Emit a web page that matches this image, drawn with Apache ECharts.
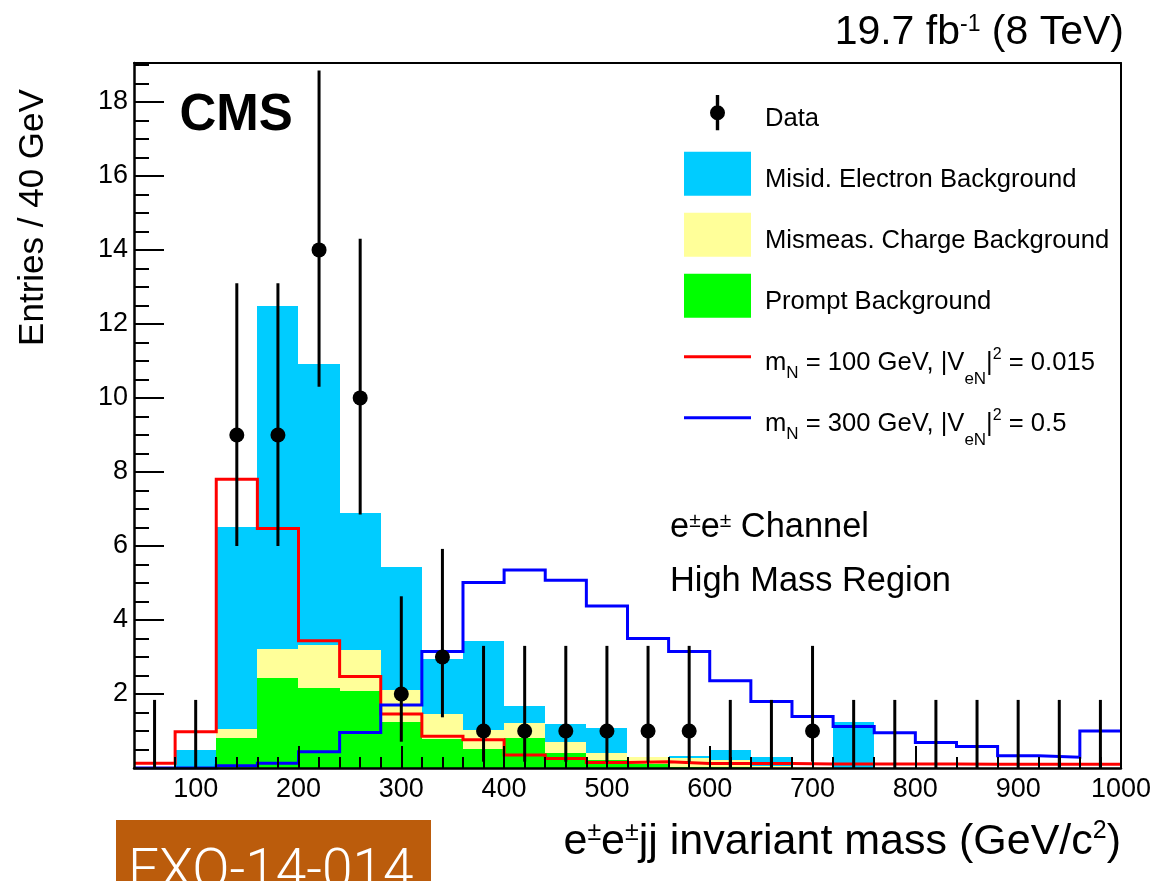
<!DOCTYPE html>
<html>
<head>
<meta charset="utf-8">
<script src="https://cdn.jsdelivr.net/npm/echarts@6/dist/echarts.min.js"></script>
<style>html,body{margin:0;padding:0;background:#fff;overflow:hidden}#c{width:1154px;height:881px}</style>
</head>
<body>
<div id="c"></div>
<script>
// ---------------- data ----------------
const binLow = [40, 80, 120, 160, 200, 240, 280, 320, 360, 400, 440, 480, 520, 560, 600, 640, 680, 720, 760, 800, 840, 880, 920, 960];
const binWidth = 40;
// stacked backgrounds (bottom -> top)
const promptBkg  = [0, 0, 0.81, 2.43, 2.16, 2.09, 1.23, 0.78, 0.50, 0.80, 0.40, 0.21, 0.12, 0.04, 0.02, 0, 0, 0, 0, 0, 0, 0, 0, 0];
const mismeasBkg = [0, 0, 0.24, 0.78, 1.17, 1.09, 0.87, 0.68, 0.53, 0.41, 0.29, 0.19, 0.19, 0.23, 0.20, 0.05, 0.02, 0, 0, 0, 0, 0, 0, 0];
const misidBkg   = [0, 0.48, 5.45, 9.27, 7.60, 3.71, 3.32, 1.48, 2.39, 0.46, 0.49, 0.67, 0, 0.06, 0.27, 0.26, 0, 1.23, 0, 0, 0, 0, 0, 0];
// signal hypotheses
const sigN100 = [0.13, 0.98, 7.80, 6.47, 3.44, 2.47, 1.46, 0.86, 0.76, 0.35, 0.26, 0.15, 0.17, 0.12, 0.12, 0.12, 0.11, 0.11, 0.11, 0.11, 0.10, 0.10, 0.10, 0.10];
const sigN300 = [0, 0, 0.06, 0.13, 0.44, 0.96, 1.70, 3.15, 5.01, 5.35, 5.07, 4.38, 3.50, 3.15, 2.36, 1.80, 1.39, 1.12, 0.95, 0.69, 0.58, 0.33, 0.29, 1.00];
// observed data and error bar ends
const dataCounts  = [0, 0, 9, 9, 14, 10, 2, 3, 1, 1, 1, 1, 1, 1, 0, 0, 1, 0, 0, 0, 0, 0, 0, 0];
const dataErrLow  = [0, 0, 6.0, 6.0, 10.3, 6.85, 0.71, 1.37, 0.17, 0.17, 0.17, 0.17, 0.17, 0.17, 0, 0, 0.17, 0, 0, 0, 0, 0, 0, 0];
const dataErrHigh = [1.84, 1.84, 13.1, 13.1, 18.85, 14.3, 4.64, 5.92, 3.3, 3.3, 3.3, 3.3, 3.3, 3.3, 1.84, 1.84, 3.3, 1.84, 1.84, 1.84, 1.84, 1.84, 1.84, 1.84];
// axis ticks
const xMajorTicks = [100, 200, 300, 400, 500, 600, 700, 800, 900, 1000];
const yMajorTicks = [2, 4, 6, 8, 10, 12, 14, 16, 18];
const xRange = [40, 1000];
const yRange = [0, 19.05];

const NAME_DATA = 'Data';
const NAME_MISID = 'Misid. Electron Background';
const NAME_MISMEAS = 'Mismeas. Charge Background';
const NAME_PROMPT = 'Prompt Background';
const NAME_S100 = 'mN = 100 GeV, |VeN|2 = 0.015';
const NAME_S300 = 'mN = 300 GeV, |VeN|2 = 0.5';

// ---------------- helpers ----------------
const FONT = '"Liberation Sans", Arial, Helvetica, sans-serif';
const MID = 0.3465; // canvas "middle" baseline offset for Liberation Sans (em)

const xMinorTicks = [];
for (let v = 60; v < 1000; v += 20) xMinorTicks.push(v);
const yMinorTicks = [];
for (let v = 0.5; v <= 19; v += 0.5) yMinorTicks.push(+v.toFixed(1));

function stepData(vals) {
  const d = binLow.map((x, i) => [x, vals[i]]);
  d.push([binLow[binLow.length - 1] + binWidth, vals[vals.length - 1]]);
  return d;
}
const binCenters = binLow.map(x => x + binWidth / 2);
const dataPoints = [];
binCenters.forEach((x, i) => { if (dataCounts[i] > 0) dataPoints.push([x, dataCounts[i]]); });
const errData = binCenters.map((x, i) => [x, dataErrLow[i], dataErrHigh[i]]);

// stacked bins: [xLow, xHigh, yLow, yHigh]
const stackLayers = [promptBkg, mismeasBkg, misidBkg];
const cumBase = binLow.map(() => 0);
const stackRects = stackLayers.map(vals => binLow.map((x, i) => {
  const lo = cumBase[i];
  cumBase[i] = lo + vals[i];
  return [x, x + binWidth, lo, cumBase[i]];
}));

// rich-text token whose baseline sits `bo` px below the line top (line height LH)
function tok(fs, bo, LH, ext) {
  const c = bo - MID * fs;
  return Object.assign({fontSize: fs, fontFamily: FONT, fill: '#000', color: '#000', lineHeight: LH,
    verticalAlign: 'top', height: 2, padding: [c - 1, 0, Math.max(0, LH - c - 1), 0]}, ext || {});
}
function richLabel(x, baseline, align, parts, elExtra, fill) {
  const maxFs = Math.max.apply(null, parts.map(p => p[1]));
  const LH = Math.round(maxFs * 2);
  const d = maxFs * 1.2;
  const rich = {}; let text = '';
  parts.forEach((p, i) => {
    const key = 't' + i;
    rich[key] = tok(p[1], d - (p[2] || 0), LH, Object.assign(fill ? {fill: fill} : {}, p[3] || {}));
    text += '{' + key + '|' + p[0] + '}';
  });
  return Object.assign({type: 'text', z: 50, silent: true,
    style: {text: text, rich: rich, x: x, y: baseline - d, align: align, verticalAlign: 'top'}}, elExtra || {});
}

// legend rich styles (block height 44, main baseline 37.6 below top)
const LG = 25.6;
const legendRich = {
  n: tok(LG, 37.6, 44),
  sb1: tok(17, 44.9, 44),
  sb2: tok(17, 50.9, 44),
  sp: tok(16, 25.9, 44)
};
const legendText = {};
legendText[NAME_DATA] = '{n|Data}';
legendText[NAME_MISID] = '{n|' + NAME_MISID + '}';
legendText[NAME_MISMEAS] = '{n|' + NAME_MISMEAS + '}';
legendText[NAME_PROMPT] = '{n|' + NAME_PROMPT + '}';
legendText[NAME_S100] = '{n|m}{sb1|N}{n| = 100 GeV, |V}{sb2|eN}{n||}{sp|2}{n| = 0.015}';
legendText[NAME_S300] = '{n|m}{sb1|N}{n| = 300 GeV, |V}{sb2|eN}{n||}{sp|2}{n| = 0.5}';

const dataIcon = 'path://M0,0L0,0M67,44L67,44M31.8,4.3L35.2,4.3L35.2,39.5L31.8,39.5ZM26,22A7.5,7.5 0 1 1 41,22A7.5,7.5 0 1 1 26,22Z';
const lineIcon = 'path://M0,0L0,0M67,44L67,44M0,20.5L67,20.5L67,23.5L0,23.5Z';

const legendRows = [
  [NAME_DATA, dataIcon],
  [NAME_MISID, 'rect'],
  [NAME_MISMEAS, 'rect'],
  [NAME_PROMPT, 'rect'],
  [NAME_S100, lineIcon],
  [NAME_S300, lineIcon]
];
const legends = legendRows.map((row, i) => ({
  show: true, orient: 'vertical', left: 684, top: 90.7 + 61 * i, padding: 0,
  itemWidth: 67, itemHeight: 44, itemGap: 0, selectedMode: false,
  data: [{name: row[0], icon: row[1]}],
  itemStyle: {opacity: 1, borderWidth: 0},
  formatter: function (name) { return legendText[name] || name; },
  textStyle: {color: '#000', fontSize: LG, fontFamily: FONT, padding: [0, 0, 0, 9], rich: legendRich}
}));

const COL_MISID = '#00CCFF', COL_MISMEAS = '#FFFF99', COL_PROMPT = '#00FF00';

function stackSeries(name, rects, color) {
  return {
    name: name, type: 'custom', data: rects, z: 1, silent: true, animation: false,
    encode: {x: [0, 1], y: [2, 3]}, itemStyle: {color: color}, color: color,
    renderItem: function (params, api) {
      const p0 = api.coord([api.value(0), api.value(2)]);
      const p1 = api.coord([api.value(1), api.value(3)]);
      const x0 = Math.round(p0[0]), x1 = Math.round(p1[0]);
      const yb = Math.round(p0[1]), yt = Math.round(p1[1]);
      if (yb - yt <= 0) return null;
      return {type: 'rect', shape: {x: x0, y: yt, width: x1 - x0, height: yb - yt},
        style: {fill: color}};
    }
  };
}
function sigSeries(name, vals, color, z) {
  return {
    name: name, type: 'line', step: 'end', data: stepData(vals), color: color,
    symbol: 'none', showSymbol: false, silent: true, z: z,
    lineStyle: {width: 3, color: color, join: 'miter'}, itemStyle: {color: color},
    emphasis: {disabled: true}, animation: false
  };
}

const axisCommon = {splitLine: {show: false}, axisPointer: {show: false}};
const numFmt = function (v) { return String(v); };

const option = {
  animation: false,
  backgroundColor: '#fff',
  grid: {left: 134, top: 63, width: 987, height: 705, containLabel: false},
  xAxis: [
    Object.assign({type: 'value', min: xRange[0], max: xRange[1], position: 'bottom', z: 10,
      axisLine: {show: true, onZero: false, lineStyle: {color: '#000', width: 2.5}},
      axisTick: {show: true, inside: true, length: 11, lineStyle: {color: '#000', width: 2}, customValues: xMinorTicks},
      axisLabel: {show: false}}, axisCommon),
    Object.assign({type: 'value', min: xRange[0], max: xRange[1], position: 'bottom', z: 10,
      axisLine: {show: false, onZero: false},
      axisTick: {show: true, inside: true, length: 22, lineStyle: {color: '#000', width: 2}, customValues: xMajorTicks},
      axisLabel: {show: true, customValues: xMajorTicks, formatter: numFmt, color: '#000', fontSize: 27, fontFamily: FONT, margin: 8}}, axisCommon),
    Object.assign({type: 'value', min: xRange[0], max: xRange[1], position: 'top', z: 10,
      axisLine: {show: true, onZero: false, lineStyle: {color: '#000', width: 2}},
      axisTick: {show: false}, axisLabel: {show: false}}, axisCommon)
  ],
  yAxis: [
    Object.assign({type: 'value', min: yRange[0], max: yRange[1], position: 'left', z: 10,
      axisLine: {show: true, onZero: false, lineStyle: {color: '#000', width: 2.5}},
      axisTick: {show: true, inside: true, length: 15, lineStyle: {color: '#000', width: 2}, customValues: yMinorTicks},
      axisLabel: {show: false}}, axisCommon),
    Object.assign({type: 'value', min: yRange[0], max: yRange[1], position: 'left', z: 10,
      axisLine: {show: false, onZero: false},
      axisTick: {show: true, inside: true, length: 30, lineStyle: {color: '#000', width: 2}, customValues: yMajorTicks},
      axisLabel: {show: true, customValues: yMajorTicks, formatter: numFmt, color: '#000', fontSize: 27, fontFamily: FONT, margin: 6}}, axisCommon),
    Object.assign({type: 'value', min: yRange[0], max: yRange[1], position: 'right', z: 10,
      axisLine: {show: true, onZero: false, lineStyle: {color: '#000', width: 2}},
      axisTick: {show: false}, axisLabel: {show: false}}, axisCommon)
  ],
  legend: legends,
  series: [
    stackSeries(NAME_PROMPT, stackRects[0], COL_PROMPT),
    stackSeries(NAME_MISMEAS, stackRects[1], COL_MISMEAS),
    stackSeries(NAME_MISID, stackRects[2], COL_MISID),
    sigSeries(NAME_S100, sigN100, '#FF0000', 3),
    sigSeries(NAME_S300, sigN300, '#0000FF', 4),
    {
      name: NAME_DATA, type: 'scatter', data: dataPoints, symbol: 'circle', symbolSize: 15,
      itemStyle: {color: '#000', opacity: 1}, z: 6, silent: true, emphasis: {disabled: true}, animation: false
    },
    {
      name: NAME_DATA, type: 'custom', data: errData, z: 5, silent: true, animation: false,
      encode: {x: 0, y: [1, 2]}, itemStyle: {color: '#000'},
      renderItem: function (params, api) {
        const x = api.value(0);
        const a = api.coord([x, api.value(1)]);
        const b = api.coord([x, api.value(2)]);
        return {type: 'line', shape: {x1: a[0], y1: a[1], x2: b[0], y2: b[1]},
          style: {stroke: '#000', lineWidth: 3}};
      }
    }
  ],
  graphic: [
    richLabel(179.5, 134, 'left', [['CMS', 51, 0, {fontWeight: 'bold'}]]),
    richLabel(1124, 47, 'right', [['19.7 fb', 41, 0], ['-1', 23, 14], [' (8 TeV)', 41, 0]]),
    richLabel(0, 0, 'center', [['Entries / 40 GeV', 35, 0]], {x: 45, y: 217.5, rotation: Math.PI / 2}),
    richLabel(1121, 857, 'right', [['e', 43, 0], ['±', 25, 15], ['e', 43, 0], ['±', 25, 15],
      ['jj invariant mass (GeV/c', 43, 0], ['2', 25, 17], [')', 43, 0]]),
    richLabel(670, 539, 'left', [['e', 34.4, 0], ['±', 21, 11], ['e', 34.4, 0], ['±', 21, 11], [' Channel', 34.4, 0]]),
    richLabel(670, 593, 'left', [['High Mass Region', 34.4, 0]]),
    {type: 'rect', z: 40, silent: true, shape: {x: 116, y: 820, width: 315, height: 70}, style: {fill: '#BB5C0C'}},
    richLabel(128, 893, 'left', [['EXO-14-014', 55, 0, {fontFamily: 'Roboto, ' + FONT, fontWeight: 300}]], null, '#FFFFFF')
  ]
};

const chart = echarts.init(document.getElementById('c'), null, {renderer: 'canvas', width: 1154, height: 881});
chart.setOption(option);
</script>
</body>
</html>
